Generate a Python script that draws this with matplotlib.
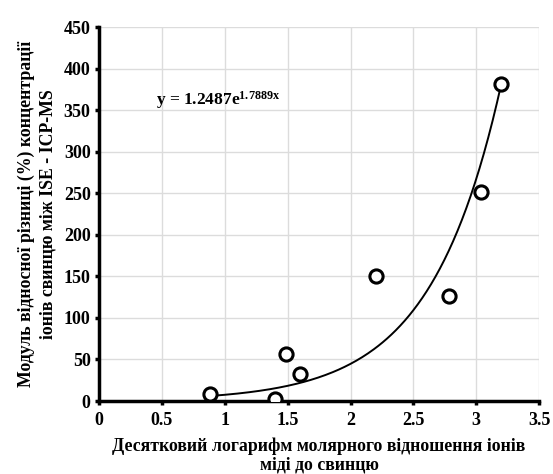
import numpy as np
import matplotlib
matplotlib.use("Agg")
from matplotlib import pyplot as plt

# measured points: log10(Cu/Pb) vs |relative difference| (%)
log_ratio = [0.88, 1.40, 1.49, 1.60, 2.20, 2.78, 3.04, 3.20]
rel_diff = [8, 3, 56, 32, 151, 126, 251, 381]

# exponential trend line y = a*exp(b*x)
a = 1.2487
b = 1.7889

plt.rcParams['font.family'] = 'Liberation Serif'
plt.rcParams['font.weight'] = 'bold'
plt.rcParams['mathtext.fontset'] = 'custom'
plt.rcParams['mathtext.rm'] = 'Liberation Serif:bold'
plt.rcParams['mathtext.it'] = 'Liberation Serif:bold'
plt.rcParams['mathtext.bf'] = 'Liberation Serif:bold'

fig = plt.figure(figsize=(5.53, 4.74), dpi=100)
ax = fig.add_axes([0.179, 0.154, 0.796, 0.789])

xs = np.linspace(min(log_ratio), max(log_ratio), 200)
ax.plot(xs, a * np.exp(b * xs), color="black", lw=1.4, zorder=3)
ax.plot(log_ratio, rel_diff, "o", ms=9.5, mfc="white", mec="black", mew=2.2, zorder=4)

ax.set_xlim(0, 3.5)
ax.set_ylim(0, 450)
ax.set_xticks(np.arange(0, 3.51, 0.5))
ax.set_xticklabels(["0", "0.5", "1", "1.5", "2", "2.5", "3", "3.5"])
ax.set_yticks(np.arange(0, 451, 50))
ax.grid(True, color="#dcdcdc", lw=1)
ax.set_axisbelow(True)

for side in ["top", "right"]:
    ax.spines[side].set_visible(False)
for side in ["left", "bottom"]:
    ax.spines[side].set_linewidth(2.5)
ax.tick_params(axis="both", labelsize=13, width=2.5, length=3, direction="out", pad=5)
ax.tick_params(axis="y", pad=3)

ax.text(0.45, 362, r"y = 1.2487e$^{1.7889x}$", fontsize=12.5, fontweight="bold", va="center")

ax.set_xlabel("Десятковий логарифм молярного відношення іонів\nміді до свинцю",
              fontsize=12.8, fontweight="bold", linespacing=1.15, labelpad=6)
ax.set_ylabel("Модуль відносної різниці (%) концентрації\nіонів свинцю між ISE - ICP-MS",
              fontsize=12.8, fontweight="bold", linespacing=1.4, labelpad=5)

fig.savefig("out.png", dpi=100)
